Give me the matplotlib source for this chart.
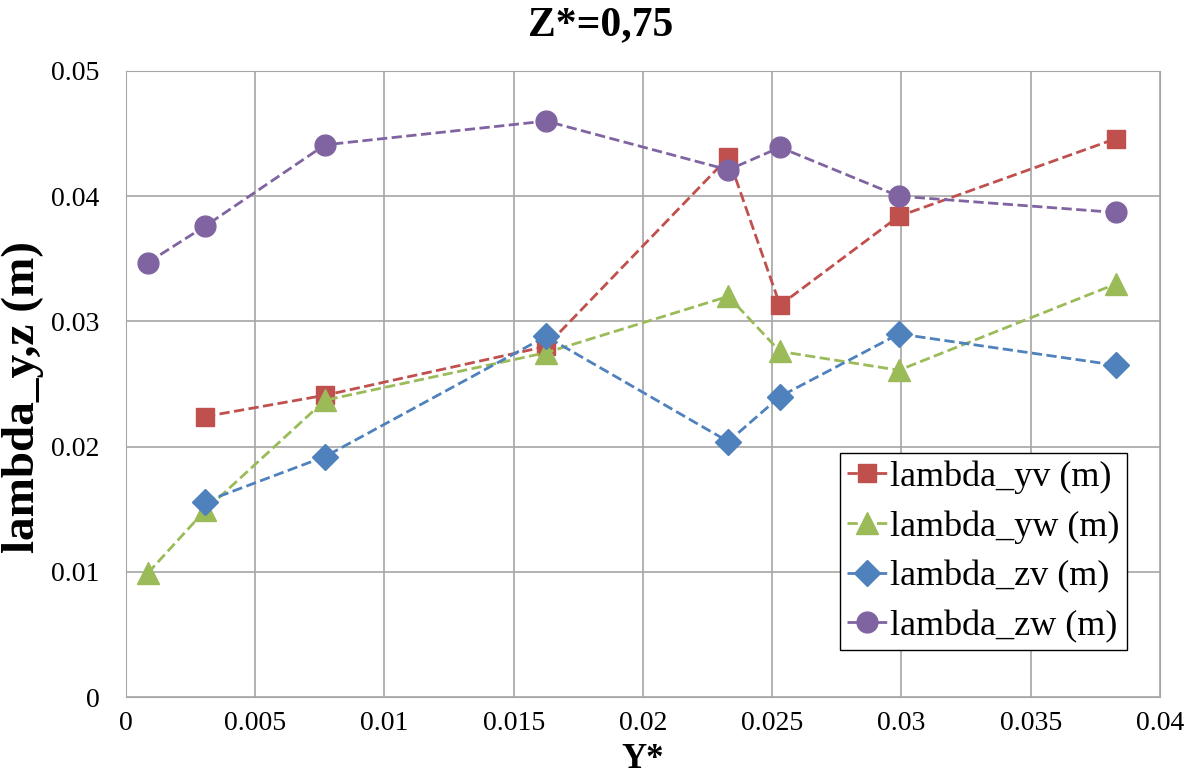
import matplotlib.pyplot as plt

plt.rcParams['font.family'] = ['Liberation Serif', 'DejaVu Serif']

# Y* positions
y_star_full = [0.00085, 0.00306, 0.0077, 0.01625, 0.0233, 0.0253, 0.0299, 0.0383]
y_star_part = [0.00306, 0.0077, 0.01625, 0.0233, 0.0253, 0.0299, 0.0383]

lambda_yv = [0.0224, 0.0241, 0.0280, 0.0431, 0.0313, 0.0384, 0.0446]
lambda_yw = [0.0099, 0.0149, 0.0237, 0.0275, 0.0320, 0.0276, 0.0261, 0.0330]
lambda_zv = [0.0156, 0.0192, 0.0288, 0.0204, 0.0240, 0.0290, 0.0265]
lambda_zw = [0.0347, 0.0376, 0.0441, 0.0460, 0.0421, 0.0439, 0.0400, 0.0387]

fig = plt.figure(figsize=(11.99, 7.8), dpi=100)
ax = fig.add_axes([0.105, 0.1064, 0.8625, 0.8026])

ax.plot(y_star_part, lambda_yv, ls='--', lw=2, color='#C0504D', marker='s', ms=13.5, label='lambda_yv (m)')
ax.plot(y_star_full, lambda_yw, ls='--', lw=2, color='#9BBB59', marker='^', ms=16, label='lambda_yw (m)')
ax.plot(y_star_part, lambda_zv, ls='--', lw=2, color='#4F81BD', marker='D', ms=13.5, label='lambda_zv (m)')
ax.plot(y_star_full, lambda_zw, ls='--', lw=2, color='#8064A2', marker='o', ms=15, label='lambda_zw (m)')

ax.set_xlim(0, 0.04)
ax.set_ylim(0, 0.05)
ax.set_xticks([0, 0.005, 0.01, 0.015, 0.02, 0.025, 0.03, 0.035, 0.04])
ax.set_xticklabels(['0', '0.005', '0.01', '0.015', '0.02', '0.025', '0.03', '0.035', '0.04'])
ax.set_yticks([0, 0.01, 0.02, 0.03, 0.04, 0.05])
ax.set_yticklabels(['0', '0.01', '0.02', '0.03', '0.04', '0.05'])
ax.tick_params(labelsize=20, length=0)
ax.tick_params(axis='x', pad=10)
ax.tick_params(axis='y', pad=19)
ax.grid(True, color='#A6A6A6', lw=1.2)
ax.set_axisbelow(True)
for s in ax.spines.values():
    s.set_color('#A6A6A6')

fig.suptitle('Z*=0,75', x=0.501, y=0.992, fontsize=30, fontweight='bold')
ax.set_xlabel('Y*', fontsize=25, fontweight='bold')
ax.xaxis.set_label_coords(0.5, -0.0735)
ax.set_ylabel('lambda_y,z (m)', fontsize=34, fontweight='bold')
ax.yaxis.set_label_coords(-0.079, 0.479)

leg = ax.legend(loc='lower right', bbox_to_anchor=(0.968, 0.075), fontsize=26, frameon=True,
                fancybox=False, edgecolor='black', framealpha=1, handlelength=1.1,
                handletextpad=0.1, borderpad=0.2, labelspacing=0.45, borderaxespad=0)
leg.get_frame().set_linewidth(1)

fig.savefig('out.png', dpi=100)
